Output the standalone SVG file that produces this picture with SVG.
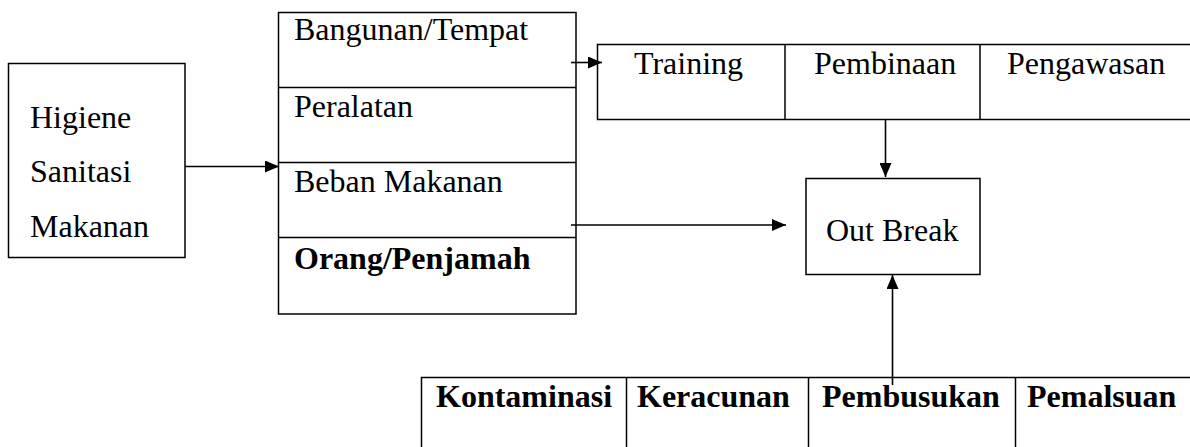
<svg xmlns="http://www.w3.org/2000/svg" width="1190" height="447" viewBox="0 0 1190 447">
<style>
  .box { fill: #fff; stroke: #000; stroke-width: 1.5; }
  .ln { fill: none; stroke: #000; stroke-width: 1.5; }
  .t { font-family: "Liberation Serif", "Times New Roman", serif; font-size: 32px; fill: #000; }
  .b { font-weight: bold; }
  .c { stroke: #000; stroke-width: 1.6; fill: none; marker-end: url(#ah); }
</style>
<defs>
  <marker id="ah" markerUnits="userSpaceOnUse" markerWidth="14" markerHeight="12" refX="14" refY="6" orient="auto">
    <path d="M0,0 L14,6 L0,12 Z" fill="#000"/>
  </marker>
</defs>
<rect width="1190" height="447" fill="#fff"/>

<g id="higiene">
  <rect class="box" x="8.5" y="63.5" width="176.5" height="194"/>
  <text class="t" x="30" y="127.5">Higiene</text>
  <text class="t" x="30" y="182">Sanitasi</text>
  <text class="t" x="30" y="237">Makanan</text>
</g>

<g id="faktor">
  <rect class="box" x="278.5" y="12.5" width="297.5" height="301.5"/>
  <line class="ln" x1="278.5" y1="87.5" x2="576" y2="87.5"/>
  <line class="ln" x1="278.5" y1="162.5" x2="576" y2="162.5"/>
  <line class="ln" x1="278.5" y1="237.5" x2="576" y2="237.5"/>
  <text class="t" x="294" y="39.5">Bangunan/Tempat</text>
  <text class="t" x="294" y="116.5">Peralatan</text>
  <text class="t" x="294" y="191.5">Beban Makanan</text>
  <text class="t b" x="294" y="268.5">Orang/Penjamah</text>
</g>

<g id="pengendalian">
  <rect class="box" x="597.5" y="44.5" width="600" height="75"/>
  <line class="ln" x1="785" y1="44.5" x2="785" y2="119.5"/>
  <line class="ln" x1="980" y1="44.5" x2="980" y2="119.5"/>
  <text class="t" x="634" y="73.5">Training</text>
  <text class="t" x="814" y="73.5">Pembinaan</text>
  <text class="t" x="1007" y="73.5">Pengawasan</text>
</g>

<g id="outbreak">
  <rect class="box" x="806" y="178.5" width="174" height="96"/>
  <text class="t" x="826" y="240.5">Out Break</text>
</g>

<g id="penyebab">
  <rect class="box" x="421.5" y="377.5" width="780" height="90"/>
  <line class="ln" x1="626.5" y1="377.5" x2="626.5" y2="447"/>
  <line class="ln" x1="808.5" y1="377.5" x2="808.5" y2="447"/>
  <line class="ln" x1="1015.5" y1="377.5" x2="1015.5" y2="447"/>
  <text class="t b" x="436" y="407">Kontaminasi</text>
  <text class="t b" x="637" y="407">Keracunan</text>
  <text class="t b" x="822" y="407">Pembusukan</text>
  <text class="t b" x="1027" y="407">Pemalsuan</text>
</g>

<g id="connectors">
  <line class="c" x1="185" y1="166.5" x2="279" y2="166.5"/>
  <line class="c" x1="571" y1="62.5" x2="602" y2="62.5"/>
  <line class="c" x1="571" y1="225" x2="786" y2="225"/>
  <line class="c" x1="885.5" y1="119.5" x2="885.5" y2="177"/>
  <line class="c" x1="892.5" y1="385" x2="892.5" y2="275"/>
</g>
</svg>
